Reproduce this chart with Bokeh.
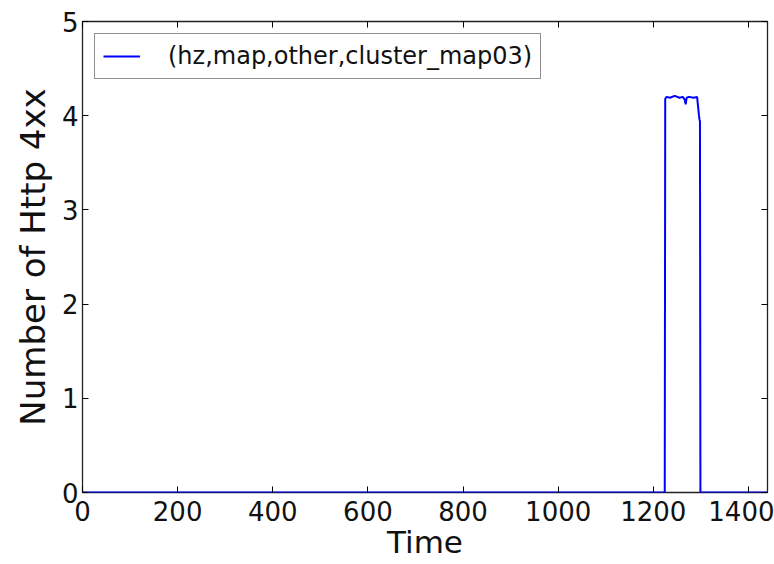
from bokeh.plotting import figure
from bokeh.models import Range1d, LinearAxis, FixedTicker, Legend, LegendItem
from bokeh.embed import file_html
from bokeh.resources import INLINE

# data (time in minutes of the day, count of http 4xx)
series_name = "(hz,map,other,cluster_map03)"
time_vals = [0, 1224, 1225, 1228, 1235, 1245, 1255, 1262, 1266, 1268, 1270,
             1275, 1285, 1292, 1294, 1296, 1297, 1298, 1299, 1300, 1439]
http4xx_vals = [0, 0, 4.18, 4.20, 4.19, 4.21, 4.19, 4.20, 4.17, 4.12, 4.19,
                4.20, 4.19, 4.20, 4.10, 4.00, 3.96, 3.94, 0.0, 0, 0]
x_ticks = [0, 200, 400, 600, 800, 1000, 1200, 1400]
y_ticks = [0, 1, 2, 3, 4, 5]

FONT = "DejaVu Sans"

p = figure(width=774, height=564, output_backend="svg", toolbar_location=None,
           x_range=Range1d(0, 1440), y_range=Range1d(0, 5),
           min_border_left=82, min_border_right=7, min_border_top=21,
           min_border_bottom=72)
p.background_fill_color = "white"
p.border_fill_color = "white"
p.grid.visible = False
p.outline_line_color = "#222222"
p.outline_line_width = 1.3

r = p.line(time_vals, http4xx_vals, line_color="#0000ff", line_width=2)

for ax, ticks in ((p.xaxis[0], x_ticks), (p.yaxis[0], y_ticks)):
    ax.ticker = FixedTicker(ticks=ticks)
    ax.axis_line_color = None
    ax.major_tick_in = 6
    ax.major_tick_out = 0
    ax.major_tick_line_color = "black"
    ax.minor_tick_line_color = None
    ax.major_label_text_font = FONT
    ax.major_label_text_font_size = "26px"
    ax.major_label_text_color = "#111111"
    ax.axis_label_text_font = FONT
    ax.axis_label_text_font_style = "normal"
    ax.axis_label_text_color = "#111111"

p.xaxis[0].axis_label = "Time"
p.xaxis[0].axis_label_text_font_size = "31px"
p.yaxis[0].axis_label = "Number of Http 4xx"
p.yaxis[0].axis_label_text_font_size = "34px"
p.xaxis[0].major_label_standoff = 8
p.xaxis[0].axis_label_standoff = 0
p.yaxis[0].major_label_standoff = 4
p.yaxis[0].axis_label_standoff = 6

# mirrored ticks on top and right
for loc, ticks in (("above", x_ticks), ("right", y_ticks)):
    ax = LinearAxis(ticker=FixedTicker(ticks=ticks))
    ax.axis_line_color = None
    ax.major_tick_in = 6
    ax.major_tick_out = 0
    ax.minor_tick_line_color = None
    ax.major_label_text_font_size = "0px"
    ax.major_label_text_color = None
    ax.major_label_standoff = 0
    p.add_layout(ax, loc)

legend = Legend(items=[LegendItem(label=series_name, renderers=[r])],
                location="top_left", margin=12, padding=8,
                glyph_width=37, glyph_height=24, label_standoff=28,
                label_text_font=FONT, label_text_font_size="24px",
                label_text_color="#111111",
                border_line_color="#222222", border_line_width=1.3,
                background_fill_color="white", background_fill_alpha=1)
p.add_layout(legend)

open("out.html", "w").write(file_html(p, INLINE))
